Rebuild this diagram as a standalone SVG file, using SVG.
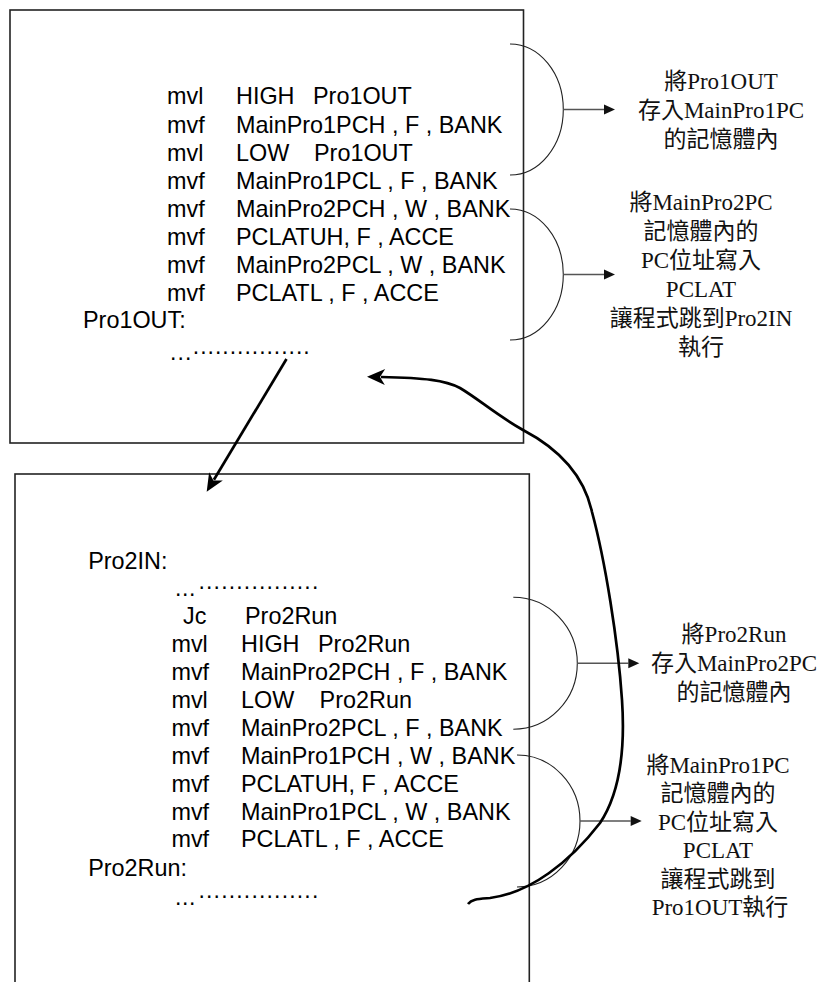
<svg xmlns="http://www.w3.org/2000/svg" width="824" height="982" viewBox="0 0 824 982">
<style>
.box{fill:#fff;stroke:#222;stroke-width:1.6}
.code{font-family:"Liberation Sans",Arial,sans-serif;font-size:23.4px;fill:#000}
.dots{font-family:"Liberation Sans",Arial,sans-serif;font-size:23px;fill:#000}
.note{font-family:"Liberation Serif","Noto Sans CJK TC",serif;font-size:23px;fill:#111;text-anchor:middle}
.brace{fill:none;stroke:#222;stroke-width:1.1}
.thin{fill:none;stroke:#555;stroke-width:1.4}
.thick{fill:none;stroke:#000;stroke-width:2.7}
</style>
<defs>
<marker id="ah" markerUnits="userSpaceOnUse" markerWidth="12" markerHeight="12" refX="0" refY="0" orient="auto" overflow="visible">
<path d="M11,0 L0,-5 L0,5 Z" fill="#111"/>
</marker>
<marker id="ahk" markerUnits="userSpaceOnUse" markerWidth="18" markerHeight="18" refX="0" refY="0" orient="auto" overflow="visible">
<path d="M14,0 L-4,-8 L1,0 L-4,8 Z" fill="#000"/>
</marker>
</defs>
<rect width="824" height="982" fill="#fff"/>

<g id="box1">
<rect class="box" x="10" y="10" width="513.5" height="433"/>
<text class="code" x="167" y="104">mvl</text><text class="code" x="236" y="104">HIGH</text><text class="code" x="313" y="104">Pro1OUT</text>
<text class="code" x="167" y="132.5">mvf</text><text class="code" x="236" y="132.5">MainPro1PCH , F , BANK</text>
<text class="code" x="167" y="160.5">mvl</text><text class="code" x="236" y="160.5">LOW</text><text class="code" x="314" y="160.5">Pro1OUT</text>
<text class="code" x="167" y="188.5">mvf</text><text class="code" x="236" y="188.5">MainPro1PCL , F , BANK</text>
<text class="code" x="167" y="216.5">mvf</text><text class="code" x="236" y="216.5">MainPro2PCH , W , BANK</text>
<text class="code" x="167" y="244.5">mvf</text><text class="code" x="236" y="244.5">PCLATUH, F , ACCE</text>
<text class="code" x="167" y="272.5">mvf</text><text class="code" x="236" y="272.5">MainPro2PCL , W , BANK</text>
<text class="code" x="167" y="300.5">mvf</text><text class="code" x="236" y="300.5">PCLATL , F , ACCE</text>
<text class="code" x="83" y="328.3">Pro1OUT:</text>
<text class="dots" x="170.1" y="360.3" letter-spacing="1.1">...</text>
<text class="dots" x="192.8" y="353.6" letter-spacing="0.98">................</text>
</g>

<g id="box2">
<rect class="box" x="15" y="474" width="514.3" height="530"/>
<text class="code" x="88.2" y="569">Pro2IN:</text>
<text class="dots" x="175.1" y="596" letter-spacing="0.6">...</text>
<text class="dots" x="198.5" y="589" letter-spacing="1.17">................</text>
<text class="code" x="183" y="624">Jc</text><text class="code" x="245" y="624">Pro2Run</text>
<text class="code" x="171.4" y="652">mvl</text><text class="code" x="241" y="652">HIGH</text><text class="code" x="318" y="652">Pro2Run</text>
<text class="code" x="171.4" y="680">mvf</text><text class="code" x="241" y="680">MainPro2PCH , F , BANK</text>
<text class="code" x="171.4" y="708">mvl</text><text class="code" x="241" y="708">LOW</text><text class="code" x="319.6" y="708">Pro2Run</text>
<text class="code" x="171.4" y="736">mvf</text><text class="code" x="241" y="736">MainPro2PCL , F , BANK</text>
<text class="code" x="171.4" y="764">mvf</text><text class="code" x="241" y="764">MainPro1PCH , W , BANK</text>
<text class="code" x="171.4" y="792">mvf</text><text class="code" x="241" y="792">PCLATUH, F , ACCE</text>
<text class="code" x="171.4" y="820">mvf</text><text class="code" x="241" y="820">MainPro1PCL , W , BANK</text>
<text class="code" x="171.4" y="847">mvf</text><text class="code" x="241" y="847">PCLATL , F , ACCE</text>
<text class="code" x="88.2" y="876">Pro2Run:</text>
<text class="dots" x="175.1" y="904.6" letter-spacing="0.6">...</text>
<text class="dots" x="198.5" y="898" letter-spacing="1.17">................</text>
</g>

<g id="note1">
<text class="note" x="721" y="89">將Pro1OUT</text>
<text class="note" x="721" y="118">存入MainPro1PC</text>
<text class="note" x="721" y="147">的記憶體內</text>
</g>
<g id="note2">
<text class="note" x="701" y="210">將MainPro2PC</text>
<text class="note" x="701" y="239">記憶體內的</text>
<text class="note" x="701" y="268">PC位址寫入</text>
<text class="note" x="701" y="297">PCLAT</text>
<text class="note" x="701" y="326">讓程式跳到Pro2IN</text>
<text class="note" x="701" y="355">執行</text>
</g>
<g id="note3">
<text class="note" x="734" y="641.5">將Pro2Run</text>
<text class="note" x="734" y="670.5">存入MainPro2PC</text>
<text class="note" x="734" y="699.5">的記憶體內</text>
</g>
<g id="note4">
<text class="note" x="718" y="772.5">將MainPro1PC</text>
<text class="note" x="718" y="801">記憶體內的</text>
<text class="note" x="718" y="829.5">PC位址寫入</text>
<text class="note" x="718" y="858">PCLAT</text>
<text class="note" x="718" y="886.5">讓程式跳到</text>
<text class="note" x="720" y="915">Pro1OUT執行</text>
</g>

<g id="connectors">
<path class="brace" d="M510,44 A53.3,65.5 0 0 1 510,175"/>
<path class="brace" d="M510,209 A53.3,65.5 0 0 1 510,340"/>
<path class="brace" d="M513.3,597.3 A64,66 0 0 1 513.3,729.3"/>
<path class="brace" d="M517,755 A63,66 0 0 1 517,887"/>
<line class="thin" x1="563.3" y1="109.5" x2="604" y2="109.5" marker-end="url(#ah)"/>
<line class="thin" x1="563.3" y1="274.5" x2="604" y2="274.5" marker-end="url(#ah)"/>
<line class="thin" x1="577.3" y1="663.3" x2="628.3" y2="663.3" marker-end="url(#ah)"/>
<line class="thin" x1="580" y1="821" x2="630.7" y2="821" marker-end="url(#ah)"/>
<line class="thick" x1="286.5" y1="359" x2="213.9" y2="479.7" marker-end="url(#ahk)"/>
<path class="thick" d="M468,904 C472,899 478,899 490,898 C530,893 570,862 600,823 C622,790 625,745 622,700 C618,640 605,560 592,512 C585,480 565,452 523,430 C495,414 480,400 460,388 C445,380 425,378 381,377" marker-end="url(#ahk)"/>
</g>
</svg>
